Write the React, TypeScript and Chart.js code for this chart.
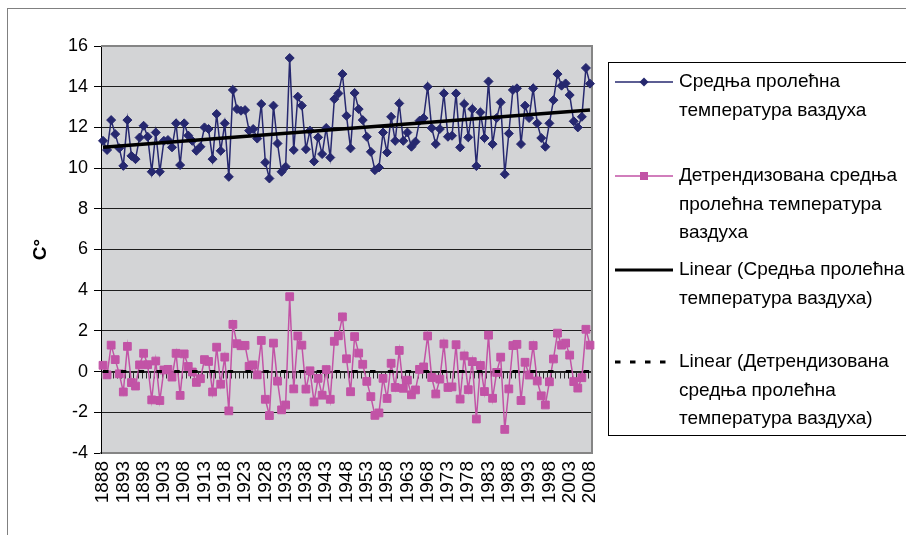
import React, { useEffect, useRef } from 'react';
import { Chart, registerables } from 'chart.js';

Chart.register(...registerables);

// Years 1888–2008, one category per year
const YEARS: string[] = Array.from({ length: 121 }, (_, i) => String(1888 + i));
const LABEL_EVERY = 5;

const Y_MIN = -4;
const Y_MAX = 16;
const Y_STEP = 2;

// Mean spring air temperature, °C
const springMean: number[] = [
  11.34, 10.89, 12.36, 11.67, 10.98, 10.11, 12.36, 10.6, 10.44, 11.5,
  12.08, 11.54, 9.82, 11.75, 9.82, 11.34, 11.38, 11.02, 12.2, 10.15,
  12.2, 11.6, 11.34, 10.85, 11.05, 12.0, 11.92, 10.44, 12.66, 10.85,
  12.2, 9.57, 13.84, 12.9, 12.82, 12.85, 11.84, 11.92, 11.45, 13.15,
  10.28, 9.49, 13.07, 11.21, 9.82, 10.07, 15.41, 10.89, 13.51, 13.07,
  10.93, 11.84, 10.33, 11.51, 10.69, 11.97, 10.52, 13.39, 13.67, 14.62,
  12.57, 10.97, 13.69, 12.9, 12.36, 11.54, 10.8, 9.9, 10.03, 11.75,
  10.77, 12.52, 11.34, 13.18, 11.34, 11.75, 11.05, 11.3, 12.33, 12.46,
  14.0, 11.97, 11.18, 11.92, 13.67, 11.54, 11.59, 13.67, 11.02, 13.15,
  11.51, 12.9, 10.1, 12.74, 11.48, 14.26, 11.18, 12.46, 13.23, 9.7,
  11.7, 13.84, 13.92, 11.18, 13.07, 12.46, 13.92, 12.2, 11.48, 11.05,
  12.2, 13.34, 14.62, 14.05, 14.16, 13.59, 12.3, 12.0, 12.52, 14.92,
  14.15,
];

// Detrended mean spring air temperature, °C
const springDetrended: number[] = [
  0.31, -0.16, 1.3, 0.59, -0.11, -1.0, 1.24, -0.54, -0.71, 0.33,
  0.9, 0.34, -1.39, 0.52, -1.42, 0.08, 0.11, -0.27, 0.9, -1.17,
  0.87, 0.25, -0.02, -0.53, -0.35, 0.59, 0.5, -1.0, 1.2, -0.62,
  0.71, -1.93, 2.32, 1.37, 1.27, 1.29, 0.26, 0.33, -0.16, 1.53,
  -1.36, -2.16, 1.4, -0.47, -1.88, -1.64, 3.68, -0.85, 1.75, 1.3,
  -0.86, 0.04, -1.49, -0.33, -1.16, 0.1, -1.36, 1.49, 1.76, 2.69,
  0.63, -0.99, 1.72, 0.91, 0.36, -0.48, -1.23, -2.15, -2.03, -0.33,
  -1.32, 0.41, -0.78, 1.04, -0.82, -0.42, -1.14, -0.9, 0.11, 0.23,
  1.75, -0.29, -1.1, -0.37, 1.36, -0.78, -0.75, 1.32, -1.35, 0.77,
  -0.89, 0.49, -2.33, 0.3, -0.98, 1.79, -1.31, -0.04, 0.71, -2.84,
  -0.85, 1.28, 1.34, -1.42, 0.46, -0.17, 1.28, -0.46, -1.19, -1.64,
  -0.5, 0.62, 1.89, 1.3, 1.4, 0.81, -0.49, -0.81, -0.3, 2.08,
  1.3,
];

// Linear trend values at the first and last year
const meanTrendEnds: number[] = [11.03, 12.85];
const detrendedTrendEnds: number[] = [0, 0];

const NAME_MEAN = ['Средња пролећна', 'температура ваздуха'];
const NAME_DETRENDED = ['Детрендизована средња', 'пролећна температура', 'ваздуха'];
const NAME_MEAN_TREND = ['Linear (Средња пролећна', 'температура ваздуха)'];
const NAME_DETRENDED_TREND = ['Linear (Детрендизована', 'средња пролећна', 'температура ваздуха)'];

const BLUE = '#26286f';
const PINK = '#c253a6';
const PLOT_FILL = '#d3d4d6';
const FONT = '"Liberation Sans", Arial, sans-serif';

// A trend series is drawn between its two end values, gaps spanned
function trendSeries(ends: number[]): (number | null)[] {
  return YEARS.map((_, i) =>
    i === 0 ? ends[0] : i === YEARS.length - 1 ? ends[1] : null
  );
}

const frame = {
  id: 'frame',
  beforeDraw(chart: any) {
    const { ctx, chartArea: a } = chart;
    ctx.save();
    ctx.fillStyle = '#ffffff';
    ctx.fillRect(0, 0, chart.width, chart.height);
    ctx.strokeStyle = '#808080';
    ctx.lineWidth = 1;
    ctx.strokeRect(7.5, 8.5, chart.width + 50, chart.height + 50);
    ctx.fillStyle = PLOT_FILL;
    ctx.fillRect(a.left, a.top, a.right - a.left, a.bottom - a.top);
    ctx.restore();
  },
  beforeDatasetsDraw(chart: any) {
    const { ctx, chartArea: a } = chart;
    const xs = chart.scales.x;
    const ys = chart.scales.y;
    const y0 = Math.round(ys.getPixelForValue(0)) + 0.5;
    const half = (xs.getPixelForValue(1) - xs.getPixelForValue(0)) / 2;
    ctx.save();
    // category axis crossing at zero
    ctx.strokeStyle = '#2a2a2a';
    ctx.lineWidth = 1;
    ctx.beginPath();
    ctx.moveTo(a.left, y0);
    ctx.lineTo(a.right, y0);
    for (let i = 0; i <= YEARS.length; i++) {
      const px = Math.round(xs.getPixelForValue(0) - half + i * 2 * half) + 0.5;
      ctx.moveTo(px, y0);
      ctx.lineTo(px, y0 + 6);
    }
    ctx.stroke();
    // plot area border
    ctx.strokeStyle = '#858585';
    ctx.lineWidth = 2;
    ctx.beginPath();
    ctx.moveTo(a.left, a.top);
    ctx.lineTo(a.right, a.top);
    ctx.lineTo(a.right, a.bottom);
    ctx.stroke();
    ctx.restore();
  },
};

const sideLegend = {
  id: 'sideLegend',
  afterDraw(chart: any) {
    const { ctx } = chart;
    const boxX = 608.5;
    const boxY = 62.5;
    const boxW = 400;
    const boxH = 373;
    const lineX0 = 615;
    const lineX1 = 673;
    const midX = 644;
    const textX = 679;
    const lead = 28.5;
    ctx.save();
    ctx.fillStyle = '#ffffff';
    ctx.fillRect(boxX, boxY, boxW, boxH);
    ctx.strokeStyle = '#000000';
    ctx.lineWidth = 1;
    ctx.strokeRect(boxX, boxY, boxW, boxH);

    const rows = [
      { y: 82, lines: NAME_MEAN, kind: 'mean' },
      { y: 176, lines: NAME_DETRENDED, kind: 'detrended' },
      { y: 270, lines: NAME_MEAN_TREND, kind: 'meanTrend' },
      { y: 362, lines: NAME_DETRENDED_TREND, kind: 'detrendedTrend' },
    ];

    rows.forEach((r) => {
      ctx.save();
      ctx.beginPath();
      if (r.kind === 'mean') {
        ctx.strokeStyle = BLUE;
        ctx.lineWidth = 1.5;
      } else if (r.kind === 'detrended') {
        ctx.strokeStyle = PINK;
        ctx.lineWidth = 1.5;
      } else if (r.kind === 'meanTrend') {
        ctx.strokeStyle = '#000';
        ctx.lineWidth = 3;
      } else {
        ctx.strokeStyle = '#000';
        ctx.lineWidth = 3;
        ctx.setLineDash([5.5, 9.5]);
      }
      ctx.moveTo(lineX0, r.y);
      ctx.lineTo(lineX1, r.y);
      ctx.stroke();
      ctx.setLineDash([]);
      if (r.kind === 'mean') {
        ctx.fillStyle = BLUE;
        ctx.beginPath();
        ctx.moveTo(midX, r.y - 4.5);
        ctx.lineTo(midX + 4.5, r.y);
        ctx.lineTo(midX, r.y + 4.5);
        ctx.lineTo(midX - 4.5, r.y);
        ctx.closePath();
        ctx.fill();
      } else if (r.kind === 'detrended') {
        ctx.fillStyle = PINK;
        ctx.fillRect(midX - 4, r.y - 4, 8, 8);
      }
      ctx.restore();

      ctx.fillStyle = '#000';
      ctx.font = `19px ${FONT}`;
      ctx.textBaseline = 'middle';
      ctx.textAlign = 'left';
      r.lines.forEach((t, k) => ctx.fillText(t, textX, r.y + k * lead));
    });
    ctx.restore();
  },
};

export default function App() {
  const ref = useRef<HTMLCanvasElement>(null);

  useEffect(() => {
    document.body.style.margin = '0';
    const chart = new Chart(ref.current as HTMLCanvasElement, {
      type: 'line',
      data: {
        labels: YEARS,
        datasets: [
          {
            label: NAME_MEAN_TREND.join(' '),
            data: trendSeries(meanTrendEnds),
            borderColor: '#000',
            borderWidth: 3.5,
            pointRadius: 0,
            spanGaps: true,
            order: 0,
          },
          {
            label: NAME_DETRENDED_TREND.join(' '),
            data: trendSeries(detrendedTrendEnds),
            borderColor: '#000',
            borderWidth: 3,
            borderDash: [5.5, 12.3],
            pointRadius: 0,
            spanGaps: true,
            order: 0,
          },
          {
            label: NAME_MEAN.join(' '),
            data: springMean,
            borderColor: BLUE,
            backgroundColor: BLUE,
            borderWidth: 1.5,
            pointStyle: 'rectRot',
            pointRadius: 4.5,
            pointBorderWidth: 1,
            pointBackgroundColor: BLUE,
            pointBorderColor: BLUE,
            order: 1,
          },
          {
            label: NAME_DETRENDED.join(' '),
            data: springDetrended,
            borderColor: PINK,
            backgroundColor: PINK,
            borderWidth: 1.5,
            pointStyle: 'rect',
            pointRadius: 5.5,
            pointBorderWidth: 1,
            pointBackgroundColor: PINK,
            pointBorderColor: PINK,
            order: 2,
          },
        ],
      },
      options: {
        animation: false,
        responsive: false,
        events: [],
        layout: { padding: { top: 46, right: 314, bottom: 0, left: 0 } },
        font: { family: FONT },
        plugins: {
          legend: { display: false },
          tooltip: { enabled: false },
        },
        scales: {
          x: {
            type: 'category',
            offset: true,
            grid: { display: false, drawTicks: false },
            border: { display: true, color: '#858585', width: 2 },
            ticks: {
              autoSkip: false,
              maxRotation: 90,
              minRotation: 90,
              padding: 8,
              color: '#000',
              font: { family: FONT, size: 19 },
              callback: (_v: any, i: number) => (i % LABEL_EVERY === 0 ? YEARS[i] : ''),
            },
            afterFit: (s: any) => {
              s.height = 82;
            },
          },
          y: {
            min: Y_MIN,
            max: Y_MAX,
            grid: { color: '#1e1e1e', tickColor: '#000', tickLength: 7, lineWidth: 1 },
            border: { display: true, color: '#000', width: 1 },
            ticks: {
              stepSize: Y_STEP,
              padding: 6,
              color: '#000',
              font: { family: FONT, size: 18 },
            },
            title: {
              display: true,
              text: 'C°',
              color: '#000',
              font: { family: FONT, size: 19, weight: 'bold' },
              padding: { top: 29, bottom: 0 },
            },
            afterFit: (s: any) => {
              s.width = 101;
            },
          },
        },
      },
      plugins: [frame, sideLegend],
    } as any);
    return () => chart.destroy();
  }, []);

  return (
    <div style={{ position: 'fixed', left: 0, top: 0, width: 906, height: 535, background: '#fff' }}>
      <canvas ref={ref} width={906} height={535} />
    </div>
  );
}
